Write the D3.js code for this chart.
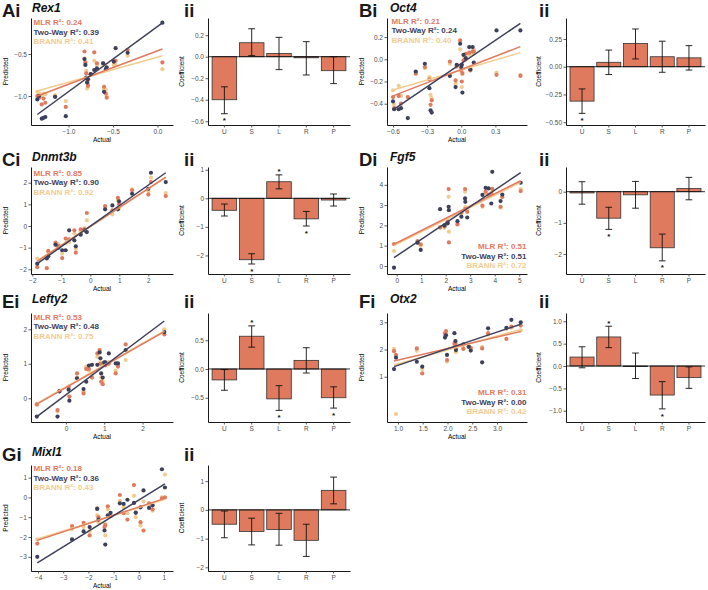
<!DOCTYPE html>
<html><head><meta charset="utf-8">
<script src="https://cdn.jsdelivr.net/npm/d3@7"></script>
<style>
body{margin:0;background:#fff}
svg{display:block}
</style>
</head><body>
<svg id="c" width="708" height="590"></svg>
<script>
// ---------------- DATA ----------------
const coefTerms = ["U","S","L","R","P"];

// Rex1
const rex1Actual = [-1.35,-1.33,-1.30,-1.28,-1.26,-1.15,-1.03,-0.82,-0.81,-0.80,-0.79,-0.78,-0.75,-0.71,-0.68,-0.61,-0.60,-0.58,-0.57,-0.49,-0.47,-0.335,0.056];
const rex1MLR    = [-1.00,-1.02,-1.10,-1.03,-1.08,-1.01,-1.13,-0.47,-0.60,-0.73,-0.83,-0.88,-0.74,-0.48,-0.61,-0.61,-0.89,-0.97,-1.02,-0.59,-0.58,-0.45,-0.60];
const rex1TwoWay = [-1.04,-1.00,-1.27,-1.26,-1.25,-1.01,-1.24,-0.56,-0.63,-0.78,-0.84,-0.80,-0.74,-0.69,-0.67,-0.61,-0.95,-0.68,-0.66,-0.59,-0.43,-0.485,-0.127];
const rex1BRANN  = [-0.95,-0.97,-1.00,-0.97,-0.98,-0.99,-1.06,-0.55,-0.62,-0.70,-0.91,-0.86,-0.75,-0.58,-0.63,-0.63,-0.92,-0.92,-1.00,-0.63,-0.63,-0.52,-0.68];
const rex1Fit = {MLR:[-1.00,-0.44], TW:[-1.22,-0.13], BR:[-0.94,-0.52]};
const rex1R2 = [0.24,0.39,0.41];
const rex1Coef = [-0.40,0.13,0.03,-0.01,-0.13];
const rex1Lo   = [-0.53,0.01,-0.12,-0.17,-0.25];
const rex1Hi   = [-0.28,0.26,0.18,0.14,0.00];
const rex1Sig  = [1,0,0,0,0];

// Oct4
const oct4Actual = [-0.60,-0.59,-0.55,-0.53,-0.47,-0.40,-0.32,-0.28,-0.27,-0.26,-0.10,-0.05,-0.04,-0.01,0.00,0.005,0.01,0.02,0.04,0.07,0.08,0.10,0.11,0.31,0.52];
const oct4MLR    = [-0.34,-0.44,-0.33,-0.40,-0.34,-0.13,-0.07,-0.18,-0.41,-0.37,-0.02,-0.19,-0.06,0.17,-0.10,-0.20,-0.13,-0.01,0.05,0.06,-0.10,0.07,0.07,-0.14,-0.15];
const oct4TwoWay = [-0.38,-0.45,-0.45,-0.44,-0.53,-0.11,-0.04,-0.26,-0.46,-0.48,-0.15,-0.25,-0.05,0.14,-0.07,-0.05,-0.30,0.04,0.01,0.11,-0.09,0.11,-0.03,0.26,0.26];
const oct4BRANN  = [-0.28,-0.41,-0.24,-0.33,-0.34,-0.12,-0.08,-0.16,-0.32,-0.35,-0.04,-0.22,-0.07,0.09,-0.08,-0.25,-0.12,0.03,0.00,0.04,-0.08,0.05,0.09,-0.12,-0.14];
const oct4Fit = {MLR:[-0.33,0.114], TW:[-0.456,0.324], BR:[-0.276,0.06]};
const oct4R2 = [0.21,0.24,0.40];
const oct4Coef = [-0.31,0.04,0.21,0.09,0.08];
const oct4Lo   = [-0.42,-0.07,0.07,-0.05,-0.03];
const oct4Hi   = [-0.20,0.15,0.34,0.23,0.19];
const oct4Sig  = [1,0,0,0,0];

// Dnmt3b
const dnmtActual = [-1.83,-1.50,-1.45,-1.20,-1.10,-0.97,-0.85,-0.73,-0.55,-0.50,-0.33,-0.20,-0.12,0.51,0.76,0.95,0.99,1.44,2.00,2.09,2.60];
const dnmtMLR    = [-1.90,-1.95,-1.15,-0.77,-0.92,-1.48,-0.58,-0.62,-0.20,-1.23,-0.15,-0.15,0.60,0.92,0.72,1.30,1.00,1.65,1.45,2.03,1.38];
const dnmtTwoWay = [-1.74,-1.50,-1.40,-0.86,-1.00,-1.12,-1.12,-0.20,-0.66,-0.94,-0.40,-0.20,-0.28,0.77,0.95,0.77,1.14,1.49,1.72,2.46,2.03];
const dnmtBRANN  = [-1.50,-1.45,-1.20,-0.90,-0.85,-1.28,-0.80,-0.74,-0.35,-1.05,-0.25,-0.10,0.26,0.85,0.54,1.20,0.80,1.69,1.60,2.23,1.52];
const dnmtFit = {MLR:[-1.63,2.26], TW:[-1.74,2.46], BR:[-1.60,2.24]};
const dnmtR2 = [0.85,0.90,0.92];
const dnmtCoef = [-0.42,-2.15,0.58,-0.72,-0.06];
const dnmtLo   = [-0.62,-2.30,0.33,-0.97,-0.27];
const dnmtHi   = [-0.20,-1.94,0.82,-0.46,0.15];
const dnmtSig  = [0,1,1,1,0];

// Fgf5
const fgfActual = [-0.11,0.85,0.98,1.77,1.95,2.08,2.12,2.13,2.48,2.64,2.79,2.80,2.88,3.50,3.63,3.75,3.86,3.90,4.24,4.31,5.06];
const fgfMLR    = [1.08,1.23,1.07,1.90,1.95,2.20,3.79,1.16,2.05,2.65,3.79,2.80,2.67,2.97,3.66,3.50,3.55,3.80,2.92,3.40,3.69];
const fgfTwoWay = [-0.08,1.15,0.79,2.80,2.00,2.10,2.92,2.75,2.21,2.43,3.33,3.16,2.39,3.50,3.85,3.82,3.08,4.64,3.20,3.52,4.10];
const fgfBRANN  = [0.74,1.15,1.00,1.90,1.88,2.10,3.41,1.69,2.10,2.60,3.66,2.90,2.80,2.92,3.60,3.50,3.60,3.70,2.87,3.40,3.79];
const fgfFit = {MLR:[1.07,4.20], TW:[0.41,4.60], BR:[1.00,4.12]};
const fgfR2 = [0.51,0.51,0.72];
const fgfCoef = [-0.04,-0.85,-0.10,-1.80,0.10];
const fgfLo   = [-0.40,-1.21,-0.53,-2.22,-0.26];
const fgfHi   = [0.32,-0.50,0.33,-1.36,0.46];
const fgfSig  = [0,1,0,1,0];

// Lefty2
const leftyActual = [-0.76,-0.22,-0.17,0.07,0.09,0.29,0.46,0.53,0.60,0.68,0.82,0.88,0.90,0.92,0.96,1.00,1.03,1.12,1.30,1.36,1.56,2.57];
const leftyMLR    = [-0.17,-0.34,0.21,0.34,0.05,0.72,0.14,0.85,0.85,0.60,1.30,1.40,1.00,0.48,0.41,1.00,0.95,1.00,0.72,0.92,1.56,1.85];
const leftyTwoWay = [-0.53,-0.53,0.20,0.25,-0.07,0.58,0.27,0.48,0.95,0.97,0.97,1.33,1.16,0.72,0.60,1.04,1.04,1.30,1.01,1.01,1.40,1.92];
const leftyBRANN  = [-0.20,-0.38,0.22,0.30,0.05,0.60,0.20,0.92,0.80,0.70,1.20,1.35,1.05,0.60,0.50,1.00,0.98,1.05,0.80,0.97,1.11,2.00];
const leftyFit = {MLR:[-0.17,1.93], TW:[-0.53,2.24], BR:[-0.15,1.95]};
const leftyR2 = [0.53,0.48,0.75];
const leftyCoef = [-0.19,0.57,-0.52,0.15,-0.50];
const leftyLo   = [-0.37,0.38,-0.72,-0.07,-0.68];
const leftyHi   = [-0.01,0.75,-0.29,0.37,-0.31];
const leftySig  = [0,1,1,0,1];

// Otx2
const otxActual = [0.92,0.96,1.38,1.49,1.95,1.97,1.99,2.14,2.16,2.17,2.32,2.43,2.47,2.70,2.82,3.19,3.29,3.48];
const otxMLR    = [1.94,1.80,2.04,1.12,2.60,2.68,1.61,2.20,2.23,2.05,2.02,2.10,2.06,2.04,2.60,2.39,2.84,2.88];
const otxTwoWay = [1.28,1.70,1.55,1.37,2.44,2.52,1.80,2.60,2.31,1.98,2.19,2.10,1.96,1.53,2.78,2.80,3.09,3.00];
const otxBRANN  = [2.02,-0.37,1.95,1.28,2.52,2.60,1.55,2.25,2.28,1.90,2.05,2.12,2.02,2.10,2.55,2.75,2.80,2.70];
const otxFit = {MLR:[1.58,2.66], TW:[1.37,2.93], BR:[1.43,2.74]};
const otxR2 = [0.31,0.00,0.42];
const otxCoef = [0.20,0.65,0.00,-0.65,-0.26];
const otxLo   = [-0.04,0.41,-0.28,-0.96,-0.50];
const otxHi   = [0.43,0.89,0.29,-0.35,-0.02];
const otxSig  = [0,1,0,1,0];

// Mixl1
const mixActual = [-4.03,-2.65,-2.19,-1.95,-1.65,-1.60,-1.36,-1.33,-1.23,-1.12,-0.75,-0.60,-0.45,-0.19,-0.12,0.07,0.19,0.41,0.55,0.92,1.04];
const mixMLR    = [-2.33,-1.45,-1.28,-1.92,-0.55,-1.00,-1.50,-1.40,-0.45,-0.95,0.12,-0.80,-1.12,0.62,-0.75,-1.25,-1.67,-0.30,-0.60,-0.05,0.00];
const mixTwoWay = [-3.00,-2.12,-1.72,-1.50,-0.58,-1.12,-1.67,-2.38,-0.90,-0.78,-0.30,-0.33,-0.12,-0.28,-0.78,-0.50,0.35,-0.53,-0.40,1.42,0.50];
const mixBRANN  = [-2.12,-1.60,-1.50,-1.70,-0.90,-1.25,-1.28,-1.92,-0.60,-0.90,-0.17,-0.50,-0.80,0.08,-1.00,-1.42,-0.20,-0.50,-0.67,0.00,1.15];
const mixFit = {MLR:[-2.17,-0.05], TW:[-3.30,0.68], BR:[-2.10,-0.10]};
const mixR2 = [0.18,0.36,0.43];
const mixCoef = [-0.50,-0.75,-0.68,-1.06,0.68];
const mixLo   = [-0.97,-1.22,-1.23,-1.62,0.21];
const mixHi   = [-0.04,-0.29,-0.12,-0.50,1.14];
const mixSig  = [0,0,0,0,0];

// ---------------- STYLE ----------------
const FONT = "'Liberation Sans', Arial, Helvetica, sans-serif";
const COL = {MLR:"#E07A5F", TW:"#3D405B", BR:"#F2CC8F"};
const NAMES = {MLR:"MLR", TW:"Two-Way", BR:"BRANN"};
const svg = d3.select("#c").attr("font-family", FONT);

function styleAxis(sel){
  sel.attr("font-size",null).attr("font-family",null);
  sel.select(".domain").attr("stroke","#000").attr("stroke-width",0.9);
  sel.selectAll(".tick line").attr("stroke","#333").attr("stroke-width",0.8);
  sel.selectAll(".tick text").attr("font-size",6.5).attr("fill","#4D4D4D").attr("font-family",FONT);
}

function panelLabels(o){
  svg.append("text").attr("x",o.lx).attr("y",o.ly).attr("font-size",18.5).attr("font-weight","bold").attr("fill","#1a1a1a").text(o.label);
  if(o.title) svg.append("text").attr("x",o.tx).attr("y",o.ly-4.8).attr("font-size",12).attr("font-weight","bold").attr("font-style","italic").attr("fill","#111").text(o.title);
}

function scatter(p){
  const x = d3.scaleLinear().domain(p.xd).range([p.x0,p.x1]);
  const y = d3.scaleLinear().domain(p.yd).range([p.y1,p.y0]);
  const g = svg.append("g");
  g.append("g").attr("transform",`translate(0,${p.y1})`)
    .call(d3.axisBottom(x).tickValues(p.xt).tickFormat(d3.format(p.xf)).tickSize(2.5).tickSizeOuter(0).tickPadding(1.5))
    .call(styleAxis);
  g.append("g").attr("transform",`translate(${p.x0},0)`)
    .call(d3.axisLeft(y).tickValues(p.yt).tickFormat(d3.format(p.yf)).tickSize(2.5).tickSizeOuter(0).tickPadding(1.5))
    .call(styleAxis);
  const series = [["BR",p.br],["MLR",p.mlr],["TW",p.tw]];
  series.forEach(([k,vals])=>{
    g.append("g").selectAll("circle").data(p.actual.map((a,i)=>[a,vals[i]])).join("circle")
      .attr("cx",d=>x(d[0])).attr("cy",d=>y(d[1])).attr("r",2.1).attr("fill",COL[k]);
  });
  const ext = d3.extent(p.actual);
  series.forEach(([k])=>{
    const f = p.fit[k];
    g.append("line").attr("x1",x(ext[0])).attr("y1",y(f[0])).attr("x2",x(ext[1])).attr("y2",y(f[1]))
      .attr("stroke",COL[k]).attr("stroke-width",1.5);
  });
  const keys = ["MLR","TW","BR"];
  keys.forEach((k,i)=>{
    g.append("text").attr("x",p.r2x).attr("y",p.r2y + i*9.7)
      .attr("text-anchor",p.r2anchor||"start")
      .attr("font-size",8).attr("font-weight","bold").attr("fill",COL[k])
      .text(`${NAMES[k]} R\u00B2: ${d3.format(".2f")(p.r2[i])}`);
  });
  g.append("text").attr("transform",`translate(${p.ytx},${(p.y0+p.y1)/2}) rotate(-90)`)
    .attr("text-anchor","middle").attr("font-size",6.5).attr("fill","#000").text("Predicted");
  g.append("text").attr("x",(p.x0+p.x1)/2).attr("y",p.y1+17).attr("text-anchor","middle")
    .attr("font-size",6.5).attr("fill","#000").text("Actual");
}

function bars(p){
  const x = d3.scaleBand().domain(coefTerms).range([p.x0,p.x1]).paddingInner(0.1).paddingOuter(0.15);
  const y = d3.scaleLinear().domain(p.yd).range([p.y1,p.y0]);
  const g = svg.append("g");
  g.append("g").attr("transform",`translate(0,${p.y1})`)
    .call(d3.axisBottom(x).tickSize(2.5).tickSizeOuter(0).tickPadding(1.5))
    .call(styleAxis);
  g.append("g").attr("transform",`translate(${p.x0},0)`)
    .call(d3.axisLeft(y).tickValues(p.yt).tickFormat(d3.format(p.yf)).tickSize(2.5).tickSizeOuter(0).tickPadding(1.5))
    .call(styleAxis);
  const rows = coefTerms.map((t,i)=>({t, v:p.coef[i], lo:p.lo[i], hi:p.hi[i], s:p.sig[i]}));
  g.append("g").selectAll("rect").data(rows).join("rect")
    .attr("x",d=>x(d.t)).attr("width",x.bandwidth())
    .attr("y",d=>y(Math.max(0,d.v))).attr("height",d=>Math.max(0.6,Math.abs(y(d.v)-y(0))))
    .attr("fill",COL.MLR).attr("stroke","#333").attr("stroke-width",0.8);
  g.append("line").attr("x1",p.x0).attr("x2",p.x1).attr("y1",y(0)).attr("y2",y(0)).attr("stroke","#000").attr("stroke-width",0.8);
  const cap = x.step()*0.125;
  const eb = g.append("g").attr("stroke","#111").attr("stroke-width",0.9);
  rows.forEach(d=>{
    const cx = x(d.t)+x.bandwidth()/2;
    eb.append("line").attr("x1",cx).attr("x2",cx).attr("y1",y(d.lo)).attr("y2",y(d.hi));
    eb.append("line").attr("x1",cx-cap).attr("x2",cx+cap).attr("y1",y(d.lo)).attr("y2",y(d.lo));
    eb.append("line").attr("x1",cx-cap).attr("x2",cx+cap).attr("y1",y(d.hi)).attr("y2",y(d.hi));
    if(d.s){
      const cy = d.v<0 ? y(d.lo)+5 : y(d.hi)-5;
      g.append("text").attr("x",cx).attr("y",cy+4.6).attr("text-anchor","middle")
        .attr("font-size",8).attr("font-weight","bold").attr("fill","#111").text("*");
    }
  });
  g.append("text").attr("transform",`translate(${p.ytx},${(p.y0+p.y1)/2}) rotate(-90)`)
    .attr("text-anchor","middle").attr("font-size",6.5).attr("fill","#000").text("Coefficient");
}

// ---------------- LAYOUT ----------------
const rowsY = [
  {y0:18, y1:125, ly:16.5},
  {y0:167, y1:274, ly:166},
  {y0:313, y1:422, ly:307.5},
  {y0:465, y1:571, ly:461}
];
const LEFT = {sx0:31, sx1:173, bx0:208, bx1:350, lx:2, tx:32, iix:184, pty:7.5, cty:184};
const RIGHT = {sx0:387, sx1:527, bx0:566, bx1:705, lx:359, tx:390, iix:539, pty:363.5, cty:541};

const panels = [
  {col:LEFT, row:0, label:"Ai", title:"Rex1",
   s:{actual:rex1Actual, mlr:rex1MLR, tw:rex1TwoWay, br:rex1BRANN, fit:rex1Fit, r2:rex1R2,
      xd:[-1.421,0.175], yd:[-1.345,-0.071], xt:[-1.0,-0.5,0.0], yt:[-1.0,-0.5], xf:".1f", yf:".1f", r2x:33.5, r2y:25},
   b:{coef:rex1Coef, lo:rex1Lo, hi:rex1Hi, sig:rex1Sig, yd:[-0.635,0.36], yt:[-0.6,-0.4,-0.2,0,0.2], yf:".1f"}},
  {col:RIGHT, row:0, label:"Bi", title:"Oct4",
   s:{actual:oct4Actual, mlr:oct4MLR, tw:oct4TwoWay, br:oct4BRANN, fit:oct4Fit, r2:oct4R2,
      xd:[-0.653,0.578], yd:[-0.592,0.372], xt:[-0.6,-0.3,0.0,0.3], yt:[-0.4,-0.2,0,0.2], xf:".1f", yf:".1f", r2x:391.5, r2y:23.5},
   b:{coef:oct4Coef, lo:oct4Lo, hi:oct4Hi, sig:oct4Sig, yd:[-0.525,0.439], yt:[-0.5,-0.25,0,0.25], yf:".2f"}},
  {col:LEFT, row:1, label:"Ci", title:"Dnmt3b",
   s:{actual:dnmtActual, mlr:dnmtMLR, tw:dnmtTwoWay, br:dnmtBRANN, fit:dnmtFit, r2:dnmtR2,
      xd:[-2.045,2.85], yd:[-2.217,2.725], xt:[-2,-1,0,1,2], yt:[-2,-1,0,1,2], xf:"d", yf:"d", r2x:33.5, r2y:175.5},
   b:{coef:dnmtCoef, lo:dnmtLo, hi:dnmtHi, sig:dnmtSig, yd:[-2.65,1.096], yt:[-2,-1,0,1], yf:"d"}},
  {col:RIGHT, row:1, label:"Di", title:"Fgf5",
   s:{actual:fgfActual, mlr:fgfMLR, tw:fgfTwoWay, br:fgfBRANN, fit:fgfFit, r2:fgfR2,
      xd:[-0.396,5.318], yd:[-0.394,4.877], xt:[0,1,2,3,4,5], yt:[0,1,2,3,4], xf:"d", yf:"d", r2x:526.5, r2y:249, r2anchor:"end"},
   b:{coef:fgfCoef, lo:fgfLo, hi:fgfHi, sig:fgfSig, yd:[-2.642,0.793], yt:[-2,-1,0], yf:"d"}},
  {col:LEFT, row:2, label:"Ei", title:"Lefty2",
   s:{actual:leftyActual, mlr:leftyMLR, tw:leftyTwoWay, br:leftyBRANN, fit:leftyFit, r2:leftyR2,
      xd:[-0.913,2.797], yd:[-0.687,2.472], xt:[0,1,2], yt:[0,1,2], xf:"d", yf:"d", r2x:33.5, r2y:319.5},
   b:{coef:leftyCoef, lo:leftyLo, hi:leftyHi, sig:leftySig, yd:[-0.922,0.974], yt:[-0.5,0,0.5], yf:".1f"}},
  {col:RIGHT, row:2, label:"Fi", title:"Otx2",
   s:{actual:otxActual, mlr:otxMLR, tw:otxTwoWay, br:otxBRANN, fit:otxFit, r2:otxR2,
      xd:[0.778,3.606], yd:[-0.665,3.342], xt:[1.0,1.5,2.0,2.5,3.0], yt:[1,2,3], xf:".1f", yf:"d", r2x:526.5, r2y:395, r2anchor:"end"},
   b:{coef:otxCoef, lo:otxLo, hi:otxHi, sig:otxSig, yd:[-1.253,1.186], yt:[-1,-0.5,0,0.5,1], yf:".1f"}},
  {col:LEFT, row:3, label:"Gi", title:"Mixl1",
   s:{actual:mixActual, mlr:mixMLR, tw:mixTwoWay, br:mixBRANN, fit:mixFit, r2:mixR2,
      xd:[-4.28,1.36], yd:[-3.715,1.635], xt:[-4,-3,-2,-1,0,1], yt:[-3,-2,-1,0,1], xf:"d", yf:"d", r2x:33.5, r2y:471},
   b:{coef:mixCoef, lo:mixLo, hi:mixHi, sig:mixSig, yd:[-2.128,1.562], yt:[-2,-1,0,1], yf:"d"}}
];

panels.forEach(P=>{
  const r = rowsY[P.row], c = P.col;
  panelLabels({lx:c.lx, ly:r.ly, label:P.label, tx:c.tx, title:P.title});
  panelLabels({lx:c.iix, ly:r.ly, label:"ii"});
  scatter(Object.assign({x0:c.sx0, x1:c.sx1, y0:r.y0, y1:r.y1, ytx:c.pty}, P.s));
  bars(Object.assign({x0:c.bx0, x1:c.bx1, y0:r.y0, y1:r.y1, ytx:c.cty}, P.b));
});
</script>
</body></html>
